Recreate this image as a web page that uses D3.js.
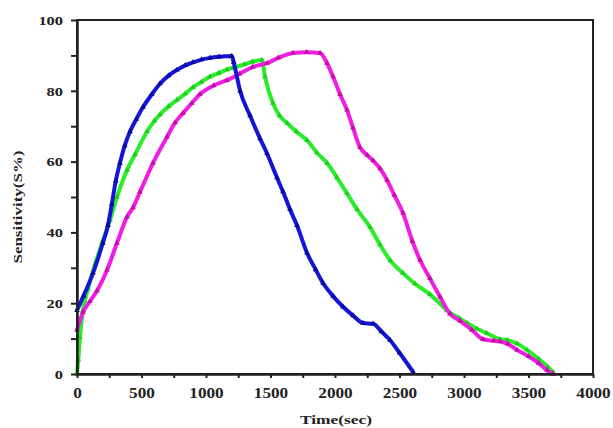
<!DOCTYPE html>
<html>
<head>
<meta charset="utf-8">
<script src="https://cdn.jsdelivr.net/npm/d3@7/dist/d3.min.js"></script>
<style>
  html, body { margin: 0; padding: 0; background: #fff; }
  svg { display: block; }
  .lbl { font-family: "Liberation Serif", "Times New Roman", serif; font-weight: bold; }
</style>
</head>
<body>
<svg id="chart" width="613" height="428"></svg>
<script>
// Sensitivity response curves: time (s) vs sensitivity (%)
const timeBlue = [0, 50, 124, 200, 240, 270, 300, 333, 370, 411, 460, 512, 580, 643, 710, 775, 840, 899, 965, 1031, 1100, 1200,
  1215, 1264, 1341, 1419, 1473, 1550, 1597, 1651, 1705, 1783, 1850, 1907, 1985, 2062, 2140, 2217, 2295, 2360, 2426, 2500, 2605];
const sensBlue = [18, 22, 28.5, 37, 42, 48, 54.5, 59.6, 64.5, 68.5, 72, 75.4, 79, 82, 84.3, 85.9, 87.2, 88, 88.8, 89.3, 89.6, 89.8,
  88, 80, 73, 66.5, 62.3, 55.5, 51.5, 46.5, 42, 34.2, 29.5, 25.7, 22, 19, 16.5, 14.4, 14.2, 12, 9.6, 6, 0.6];

const timeGreen = [0, 10, 23, 47, 85, 140, 202, 256, 310, 388, 450, 543, 600, 643, 710, 775, 840, 899, 965, 1031, 1100, 1163, 1209,
  1300, 1360, 1434, 1457, 1519, 1570, 1628, 1700, 1783, 1860, 1938, 2015, 2093, 2171, 2271, 2349, 2430, 2527, 2620, 2736,
  2868, 2960, 3023, 3100, 3178, 3279, 3333, 3411, 3488, 3580, 3650, 3690];
const sensGreen = [0, 4, 10.4, 18, 24, 31, 37.8, 43.5, 50, 57.6, 62, 68.5, 71.5, 73.3, 75.6, 77.4, 79.2, 81, 82.5, 84, 85, 86, 86.5,
  87.5, 88.2, 88.7, 84, 76.5, 73, 70.9, 68.5, 66, 62.5, 59.6, 55.5, 51, 46.5, 41.5, 36.5, 32, 28.5, 25.5, 22.5,
  18, 15.8, 14.4, 12.8, 11.5, 9.8, 9.6, 8.6, 6.8, 4.2, 2, 0.5];

const timeMagenta = [0, 47, 100, 155, 233, 310, 388, 434, 488, 589, 698, 760, 822, 890, 953, 1060, 1163, 1260, 1360, 1473,
  1560, 1674, 1780, 1884, 1938, 1985, 2039, 2093, 2140, 2194, 2250, 2295, 2350, 2403, 2460, 2527, 2600, 2659, 2736, 2814,
  2891, 2969, 3060, 3147, 3230, 3279, 3340, 3411, 3500, 3580, 3643, 3690];
const sensMagenta = [12.4, 17.5, 20.5, 23.5, 29.4, 37, 44.4, 47, 51.4, 59.6, 67, 71, 73.7, 76.5, 79, 81.5, 83, 84.8, 86.7, 87.8,
  89.3, 90.7, 90.9, 90.7, 87.8, 84, 79, 74.6, 69.5, 64, 61.8, 60.3, 58, 54.8, 50.5, 45.5, 37.5, 32.2, 27, 21.8,
  17, 15, 12.5, 9.8, 9.4, 9.2, 8.5, 6.8, 5, 3, 1.1, 0];

const yTicks = d3.range(0, 101, 10);
const xTicks = d3.range(0, 4001, 250);

const series = [
  { t: timeGreen, s: sensGreen, color: "#2aee2a", mark: "#1fcf1f" },
  { t: timeMagenta, s: sensMagenta, color: "#f01ee4", mark: "#c0109f" },
  { t: timeBlue, s: sensBlue, color: "#1515d8", mark: "#0a0a9a" }
];

const svg = d3.select("#chart");
const x = d3.scaleLinear().domain([0, 4000]).range([77, 593]);
const y = d3.scaleLinear().domain([0, 100]).range([374, 20]);

// curves
const line = d3.line().x(d => x(d[0])).y(d => y(d[1])).curve(d3.curveMonotoneX);
const tri = d3.symbol().type(d3.symbolTriangle).size(14);

series.forEach(sr => {
  const pts = sr.t.map((t, i) => [t, sr.s[i]]);
  svg.append("path")
    .datum(pts)
    .attr("d", line)
    .attr("fill", "none")
    .attr("stroke", sr.color)
    .attr("stroke-width", 4)
    .attr("stroke-linejoin", "round")
    .attr("stroke-linecap", "round");
  svg.append("g").selectAll("path")
    .data(pts)
    .join("path")
    .attr("d", tri)
    .attr("transform", d => `translate(${x(d[0])},${y(d[1])})`)
    .attr("fill", sr.mark);
});

// frame
svg.append("rect")
  .attr("x", x(0)).attr("y", y(100))
  .attr("width", x(4000) - x(0)).attr("height", y(0) - y(100))
  .attr("fill", "none").attr("stroke", "#222").attr("stroke-width", 2);

// axes
const yAxis = d3.axisLeft(y).tickValues(yTicks).tickSize(6).tickSizeOuter(0)
  .tickFormat(d => d % 20 === 0 ? d : "");
const gy = svg.append("g").attr("transform", `translate(${x(0)},0)`).call(yAxis);
gy.attr("font-family", null).attr("font-size", null);
gy.select(".domain").attr("stroke", "#222").attr("stroke-width", 2.5);
gy.selectAll(".tick line").attr("stroke", "#222").attr("stroke-width", 2);
gy.selectAll(".tick text")
  .attr("class", "lbl")
  .attr("x", -14)
  .attr("dy", "0.36em")
  .style("font-size", "12px")
  .attr("fill", "#222")
  .each(function () {
    const n = this.textContent.length;
    if (n) d3.select(this).attr("textLength", n * 8.2).attr("lengthAdjust", "spacingAndGlyphs");
  });

const xAxis = d3.axisBottom(x).tickValues(xTicks).tickSize(4).tickSizeOuter(0)
  .tickFormat(d => d % 500 === 0 ? d : "");
const gx = svg.append("g").attr("transform", `translate(0,${y(0)})`).call(xAxis);
gx.attr("font-family", null).attr("font-size", null);
gx.select(".domain").attr("stroke", "#222").attr("stroke-width", 2.5);
gx.selectAll(".tick line").attr("stroke", "#222").attr("stroke-width", 2);
gx.selectAll(".tick text")
  .attr("class", "lbl")
  .attr("y", 14)
  .style("font-size", "14px")
  .attr("fill", "#222")
  .each(function () {
    const n = this.textContent.length;
    if (n) d3.select(this).attr("textLength", n * 8.6).attr("lengthAdjust", "spacingAndGlyphs");
  });

// axis titles
svg.append("text")
  .attr("class", "lbl")
  .attr("x", 336).attr("y", 424)
  .attr("text-anchor", "middle")
  .attr("textLength", 72).attr("lengthAdjust", "spacingAndGlyphs")
  .style("font-size", "13px")
  .attr("fill", "#222")
  .text("Time(sec)");

svg.append("text")
  .attr("class", "lbl")
  .attr("transform", "translate(22,207) rotate(-90)")
  .attr("text-anchor", "middle")
  .attr("textLength", 113).attr("lengthAdjust", "spacingAndGlyphs")
  .style("font-size", "12.5px")
  .attr("fill", "#222")
  .text("Sensitivity(S%)");
</script>
</body>
</html>
